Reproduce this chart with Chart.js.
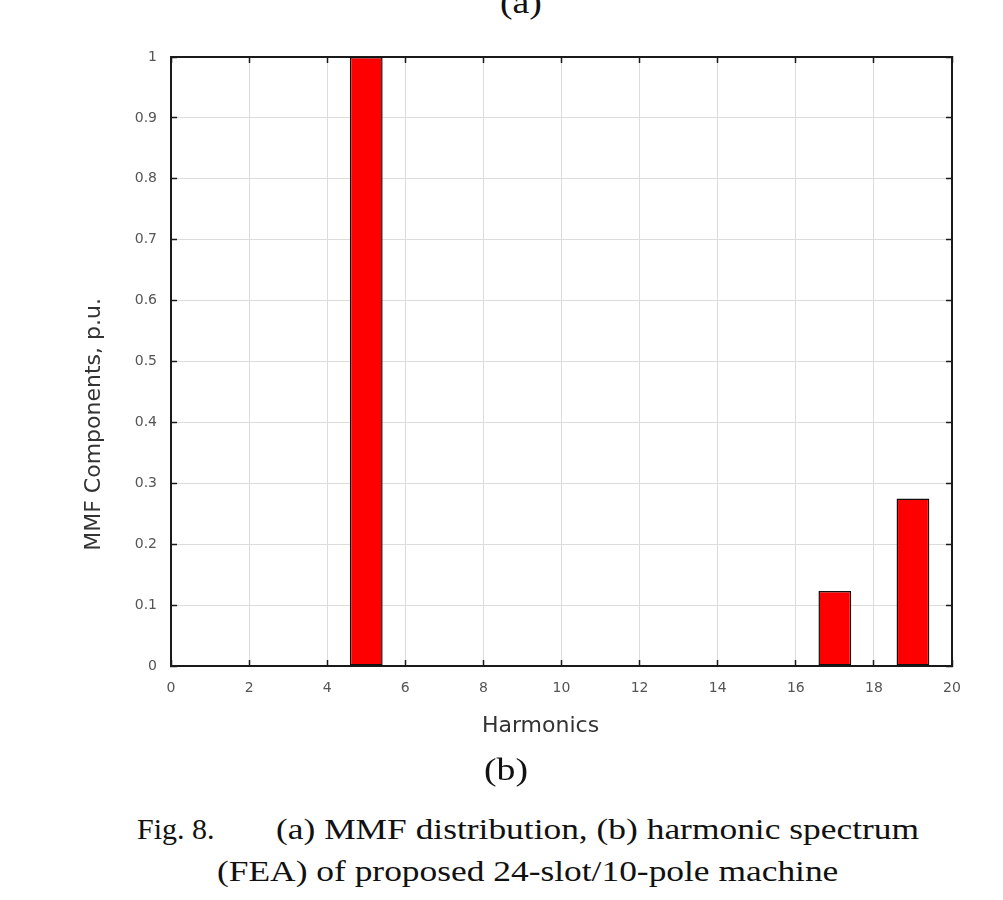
<!DOCTYPE html>
<html lang="en">
<head>
  <meta charset="UTF-8" />
  <title>Harmonic spectrum (FEA)</title>
  <script src="https://cdn.jsdelivr.net/npm/chart.js"></script>
  <style>
    html, body { margin: 0; padding: 0; background: #fff; }
    body { width: 1003px; height: 900px; position: relative; overflow: hidden; }
    .chart-box { position: absolute; left: 0; top: 0; width: 1003px; height: 760px; }
    .cap {
      position: absolute;
      font-family: "Liberation Serif", "Times New Roman", serif;
      color: #111;
      white-space: nowrap;
      line-height: 1;
      transform: scaleX(1.18);
      transform-origin: left top;
    }
  </style>
</head>
<body>
  <div class="cap" style="left:500px; top:-14px; font-size:32px;">(a)</div>

  <div class="chart-box">
    <canvas id="spectrumChart"></canvas>
  </div>

  <div class="cap" style="left:484px; top:753px; font-size:32px;">(b)</div>
  <div class="cap" style="left:137px; top:814px; font-size:30px; transform:none;">Fig. 8.</div>
  <div class="cap" style="left:276px; top:814px; font-size:30px;">(a) MMF distribution, (b) harmonic spectrum</div>
  <div class="cap" style="left:217px; top:856px; font-size:30px;">(FEA) of proposed 24-slot/10-pole machine</div>

  <script>
// harmonic orders and their MMF amplitude (p.u.)
const harmonics = [5, 17, 19];
const mmfValues = [1.0, 0.123, 0.275];

// axis ticks
const xTickValues = [0, 2, 4, 6, 8, 10, 12, 14, 16, 18, 20];
const xTickLabels = ['0', '2', '4', '6', '8', '10', '12', '14', '16', '18', '20'];
const yTickValues = [0, 0.1, 0.2, 0.3, 0.4, 0.5, 0.6, 0.7, 0.8, 0.9, 1];
const yTickLabels = ['0', '0.1', '0.2', '0.3', '0.4', '0.5', '0.6', '0.7', '0.8', '0.9', '1'];

const axisColor = '#1a1a1a';
const gridColor = '#dcdcdc';
const tickFont = { family: 'DejaVu Sans', size: 14 };
const titleFont = { family: 'DejaVu Sans', size: 22 };

function setXTicks(axis) { axis.ticks = xTickValues.map(v => ({ value: v })); }
function setYTicks(axis) { axis.ticks = yTickValues.map(v => ({ value: v })); }

// titles are not centred on the plot in the original, trailing spaces nudge them
const xTitle = 'Harmonics' + '\u00a0'.repeat(6);
const yTitle = 'MMF Components, p.u.' + '\u00a0'.repeat(18);

const ctx = document.getElementById('spectrumChart').getContext('2d');
new Chart(ctx, {
  type: 'bar',
  data: {
    datasets: [{
      data: harmonics.map((h, i) => ({ x: h, y: mmfValues[i] })),
      backgroundColor: '#ff0000',
      borderColor: '#111',
      borderWidth: 1.5,
      borderSkipped: false,
      barPercentage: 0.42,
      categoryPercentage: 1
    }]
  },
  options: {
    responsive: true,
    maintainAspectRatio: false,
    animation: false,
    layout: { padding: { left: 0, right: 51, top: 57, bottom: 0 } },
    plugins: {
      legend: { display: false },
      tooltip: { enabled: false }
    },
    scales: {
      x: {
        type: 'linear',
        position: 'bottom',
        min: 0,
        max: 20,
        offset: false,
        afterBuildTicks: setXTicks,
        afterFit: (axis) => { axis.height = 94; },
        grid: { offset: false, color: gridColor, lineWidth: 1, tickLength: -6, tickColor: axisColor, tickWidth: 1.5 },
        border: { color: axisColor, width: 2 },
        ticks: { padding: 20, color: '#555', font: tickFont, maxRotation: 0, callback: (v, i) => xTickLabels[i] },
        title: { display: true, text: xTitle, color: '#333', font: titleFont, padding: { top: 0, bottom: 21 } }
      },
      x2: {
        type: 'linear',
        position: 'top',
        min: 0,
        max: 20,
        offset: false,
        afterBuildTicks: setXTicks,
        afterFit: (axis) => { axis.height = 0; },
        grid: { offset: false, drawOnChartArea: false, tickLength: -6, tickColor: axisColor, tickWidth: 1.5 },
        border: { color: axisColor, width: 2 },
        ticks: { display: false }
      },
      y: {
        type: 'linear',
        position: 'left',
        min: 0,
        max: 1,
        afterBuildTicks: setYTicks,
        afterFit: (axis) => { axis.width = 171; },
        grid: { color: gridColor, lineWidth: 1, tickLength: -6, tickColor: axisColor, tickWidth: 1.5 },
        border: { color: axisColor, width: 2 },
        ticks: { padding: 20, color: '#555', font: tickFont, callback: (v, i) => yTickLabels[i] },
        title: { display: true, text: yTitle, color: '#333', font: titleFont, padding: { top: 81, bottom: 0 } }
      },
      y2: {
        type: 'linear',
        position: 'right',
        min: 0,
        max: 1,
        afterBuildTicks: setYTicks,
        afterFit: (axis) => { axis.width = 0; },
        grid: { drawOnChartArea: false, tickLength: -6, tickColor: axisColor, tickWidth: 1.5 },
        border: { color: axisColor, width: 2 },
        ticks: { display: false }
      }
    }
  }
});
  </script>
</body>
</html>
